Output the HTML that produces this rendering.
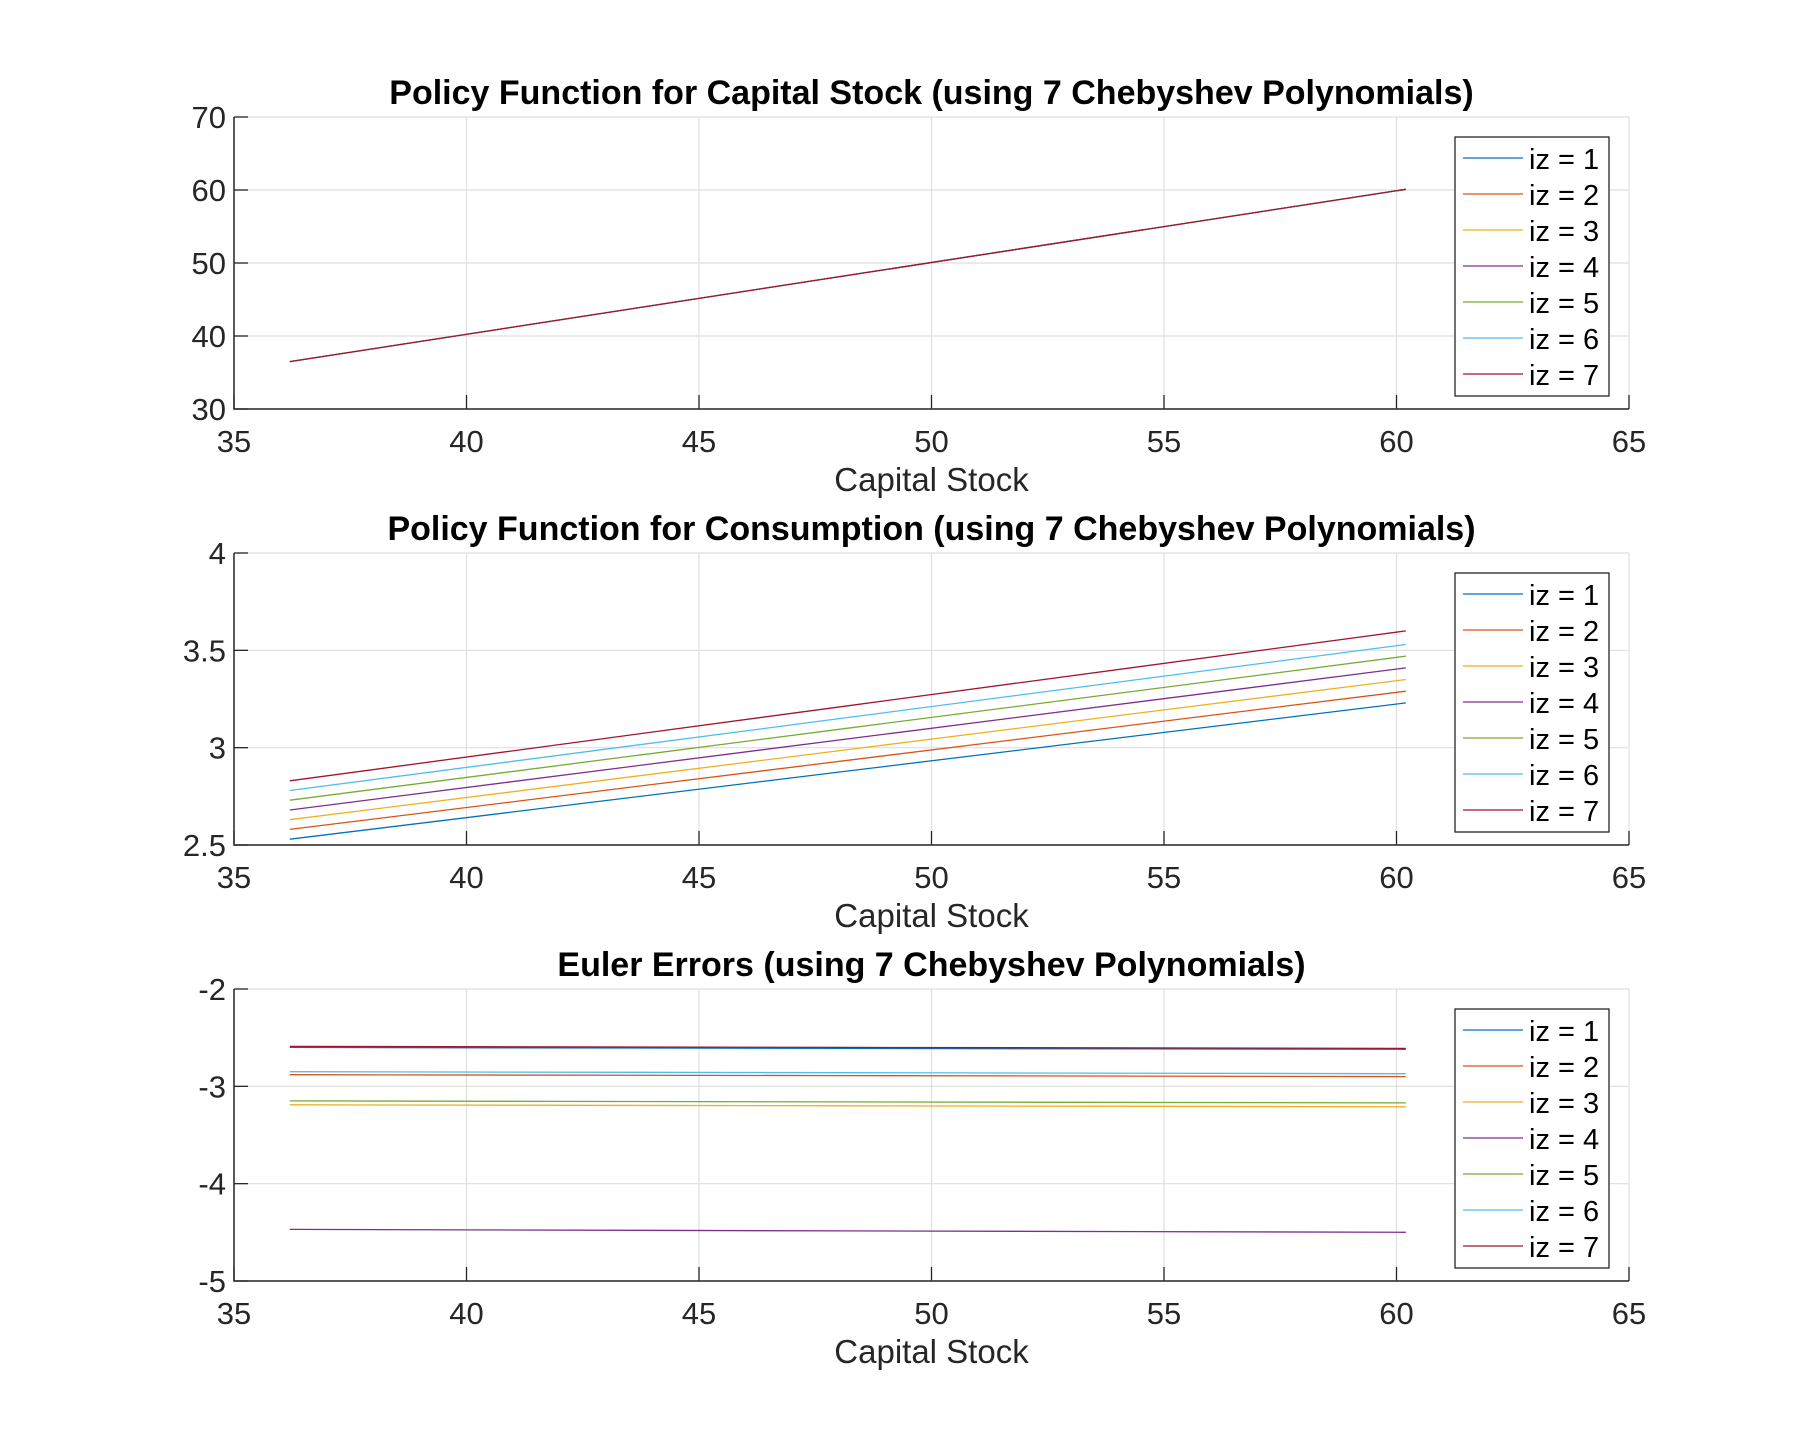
<!DOCTYPE html>
<html><head><meta charset="utf-8"><style>
body{margin:0;background:#fff}
svg{display:block;font-family:"Liberation Sans",sans-serif}
</style></head><body>
<svg id="fig" width="1800" height="1454" viewBox="0 0 1800 1454"></svg>
<script>
const xTicks=[35,40,45,50,55,60,65];
const kX=[36.2,48.2,60.2];
const titles=["Policy Function for Capital Stock (using 7 Chebyshev Polynomials)","Policy Function for Consumption (using 7 Chebyshev Polynomials)","Euler Errors (using 7 Chebyshev Polynomials)"];
const yTicks1=[30,40,50,60,70];
const yTicks2=[2.5,3,3.5,4];
const yTicks3=[-5,-4,-3,-2];
const capVals=[[36.5,48.3,60.1],[36.5,48.3,60.1],[36.5,48.3,60.1],[36.5,48.3,60.1],[36.5,48.3,60.1],[36.5,48.3,60.1],[36.5,48.3,60.1]];
const consVals=[[2.53,2.88,3.23],[2.58,2.935,3.29],[2.63,2.99,3.35],[2.68,3.045,3.41],[2.73,3.10,3.47],[2.78,3.155,3.53],[2.83,3.215,3.60]];
const eulerVals=[[-2.60,-2.61,-2.62],[-2.88,-2.89,-2.90],[-3.19,-3.20,-3.21],[-4.47,-4.485,-4.50],[-3.15,-3.16,-3.17],[-2.85,-2.86,-2.87],[-2.59,-2.60,-2.61]];
const seriesNames=["iz = 1","iz = 2","iz = 3","iz = 4","iz = 5","iz = 6","iz = 7"];
const colors=["#0072BD","#D95319","#EDB120","#7E2F8E","#77AC30","#4DBEEE","#A2142F"];
const NS="http://www.w3.org/2000/svg";
const svg=document.getElementById('fig');
function mk(tag,attrs,parent){const e=document.createElementNS(NS,tag);for(const k in attrs)e.setAttribute(k,attrs[k]);(parent||svg).appendChild(e);return e;}
const L=234,R=1629;
const panels=[{top:117,bot:409,yt:yTicks1,vals:capVals,lab:["30","40","50","60","70"]},
{top:553,bot:845,yt:yTicks2,vals:consVals,lab:["2.5","3","3.5","4"]},
{top:989,bot:1281,yt:yTicks3,vals:eulerVals,lab:["-5","-4","-3","-2"]}];
panels.forEach((p,pi)=>{
  const g=mk('g',{});
  
  
  const x=v=>L+(v-35)/30*(R-L);
  const y0=p.yt[0],y1=p.yt[p.yt.length-1];
  const y=v=>p.bot-(v-y0)/(y1-y0)*(p.bot-p.top);
  xTicks.forEach(t=>{
    mk('line',{x1:x(t),x2:x(t),y1:p.top,y2:p.bot,stroke:'#dfdfdf','stroke-width':1.2},g);
    mk('line',{x1:x(t),x2:x(t),y1:p.bot,y2:p.bot-14,stroke:'#262626','stroke-width':1.3},g);
    const tl=mk('text',{x:x(t),y:p.bot+43,'text-anchor':'middle','font-size':31,fill:'#262626'},g);tl.textContent=t;
    
  });
  p.yt.forEach((t,i)=>{
    mk('line',{x1:L,x2:R,y1:y(t),y2:y(t),stroke:'#dfdfdf','stroke-width':1.2},g);
    mk('line',{x1:L,x2:L+14,y1:y(t),y2:y(t),stroke:'#262626','stroke-width':1.3},g);
    const tl=mk('text',{x:L-8,y:y(t)+11,'text-anchor':'end','font-size':31,fill:'#262626'},g);tl.textContent=p.lab[i];
    
  });
  mk('path',{d:`M${L},${p.top}V${p.bot}H${R}`,fill:'none',stroke:'#262626','stroke-width':1.5},g);
  p.vals.forEach((s,si)=>{
    const d=s.map((v,i)=>(i?'L':'M')+x(kX[i]).toFixed(1)+','+y(v).toFixed(1)).join('');
    const pl=mk('path',{d:d,fill:'none',stroke:colors[si],'stroke-width':1.3},g);
    
    
  });
  const t=mk('text',{x:(L+R)/2,y:p.top-13,'text-anchor':'middle','font-size':34,'font-weight':'bold',fill:'#000'},g);
  t.textContent=titles[pi];
  
  
  const xl=mk('text',{x:(L+R)/2,y:p.bot+82,'text-anchor':'middle','font-size':33,fill:'#262626'},g);
  xl.textContent='Capital Stock';
  
  
  const lg=mk('g',{},g);
  
  
  const ly=p.top+20;
  mk('rect',{x:1455,y:ly,width:154,height:259,fill:'#fff',stroke:'#262626','stroke-width':1.3},lg);
  seriesNames.forEach((n,si)=>{
    const yy=ly+21+si*36;
    mk('line',{x1:1463,x2:1523,y1:yy,y2:yy,stroke:colors[si],'stroke-width':1.3},lg);
    const tx=mk('text',{x:1529,y:yy+11,'font-size':29,fill:'#000'},lg);tx.textContent=n;
    
  });
});
</script>
</body></html>
